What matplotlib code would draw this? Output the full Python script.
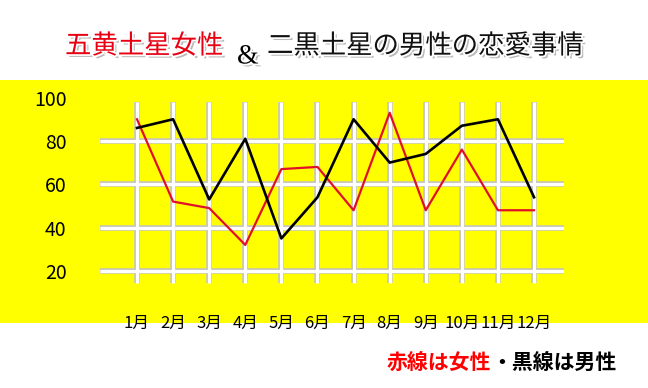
import matplotlib
matplotlib.use('Agg')
import matplotlib.pyplot as plt
import matplotlib.patheffects as pe
from matplotlib.patches import Rectangle
import numpy as np

plt.rcParams['font.family'] = ['Noto Sans CJK JP', 'DejaVu Sans']

months = ['1月', '2月', '3月', '4月', '5月', '6月', '7月', '8月', '9月', '10月', '11月', '12月']
woman = [90, 52, 49, 32, 67, 68, 48, 93, 48, 76, 48, 48]   # 五黄土星女性 (red)
man = [86, 90, 53, 81, 35, 54, 90, 70, 74, 87, 90, 54]     # 二黒土星の男性 (black)
yticks = [20, 40, 60, 80, 100]
title_red = '五黄土星女性'
title_amp = '&'
title_black = '二黒土星の男性の恋愛事情'
note_red = '赤線は女性'
note_black = '・黒線は男性'

W, H = 648, 388
fig = plt.figure(figsize=(W / 100, H / 100), dpi=100)
fig.patch.set_facecolor('white')

# yellow band behind the chart
fig.patches.append(Rectangle((0, 1 - 323 / H), 1, (323 - 80) / H,
                             transform=fig.transFigure, facecolor='#ffff00',
                             edgecolor='none', zorder=-5))

ax = fig.add_axes([100 / W, 1 - 290 / H, 464 / W, 200 / H])
ax.set_zorder(2)
ax.set_facecolor('none')
for s in ax.spines.values():
    s.set_visible(False)

x = np.arange(1, len(months) + 1)
ax.set_xlim(-0.025, 12.83)
ax.set_ylim(11.2, 103.5)

# grid: white lines with grey edge
for yv in yticks[:-1]:
    ax.hlines(yv, -0.025, 12.83, color='#c4c4bc', lw=4.0, zorder=1)
    ax.hlines(yv, -0.025, 12.83, color='white', lw=2.3, zorder=2)
ax.vlines(x, 14.5, 98, color='#c4c4bc', lw=4.0, zorder=1)
ax.vlines(x, 14.5, 98, color='white', lw=2.3, zorder=2)

ax.plot(x, man, color='black', lw=1.9, zorder=4)
ax.plot(x, woman, color='#e0102a', lw=1.6, zorder=3)

ax.set_yticks(yticks)
ax.set_yticklabels([str(v) for v in yticks], fontsize=14)
ax.set_xticks(x)
ax.set_xticklabels(months, fontsize=12)
ax.tick_params(axis='y', length=0, pad=24)
ax.tick_params(axis='x', length=0, pad=18)

# title
shadow = [pe.SimplePatchShadow(offset=(2, -2), shadow_rgbFace='#777777', alpha=0.5),
          pe.Stroke(linewidth=2.5, foreground='white'), pe.Normal()]
fig.text(65 / W, 1 - 46 / H, title_red, color='#e60012', fontsize=19,
         va='center', ha='left', path_effects=shadow)
fig.text(237 / W, 1 - 57 / H, title_amp, color='black', fontsize=20,
         family=['Liberation Serif', 'DejaVu Serif'], va='center', ha='left',
         path_effects=shadow)
fig.text(267 / W, 1 - 46 / H, title_black, color='#111111', fontsize=19,
         va='center', ha='left', path_effects=shadow)

# note under the chart
n1 = fig.text(387 / W, 1 - 362 / H, note_red, color='#ff0000', fontsize=15,
              fontweight='bold', va='center', ha='left')
fig.canvas.draw()
bb = n1.get_window_extent()
fig.text(bb.x1 / W, 1 - 362 / H, note_black, color='black', fontsize=15,
         fontweight='bold', va='center', ha='left')

fig.savefig('out.png', dpi=100)
